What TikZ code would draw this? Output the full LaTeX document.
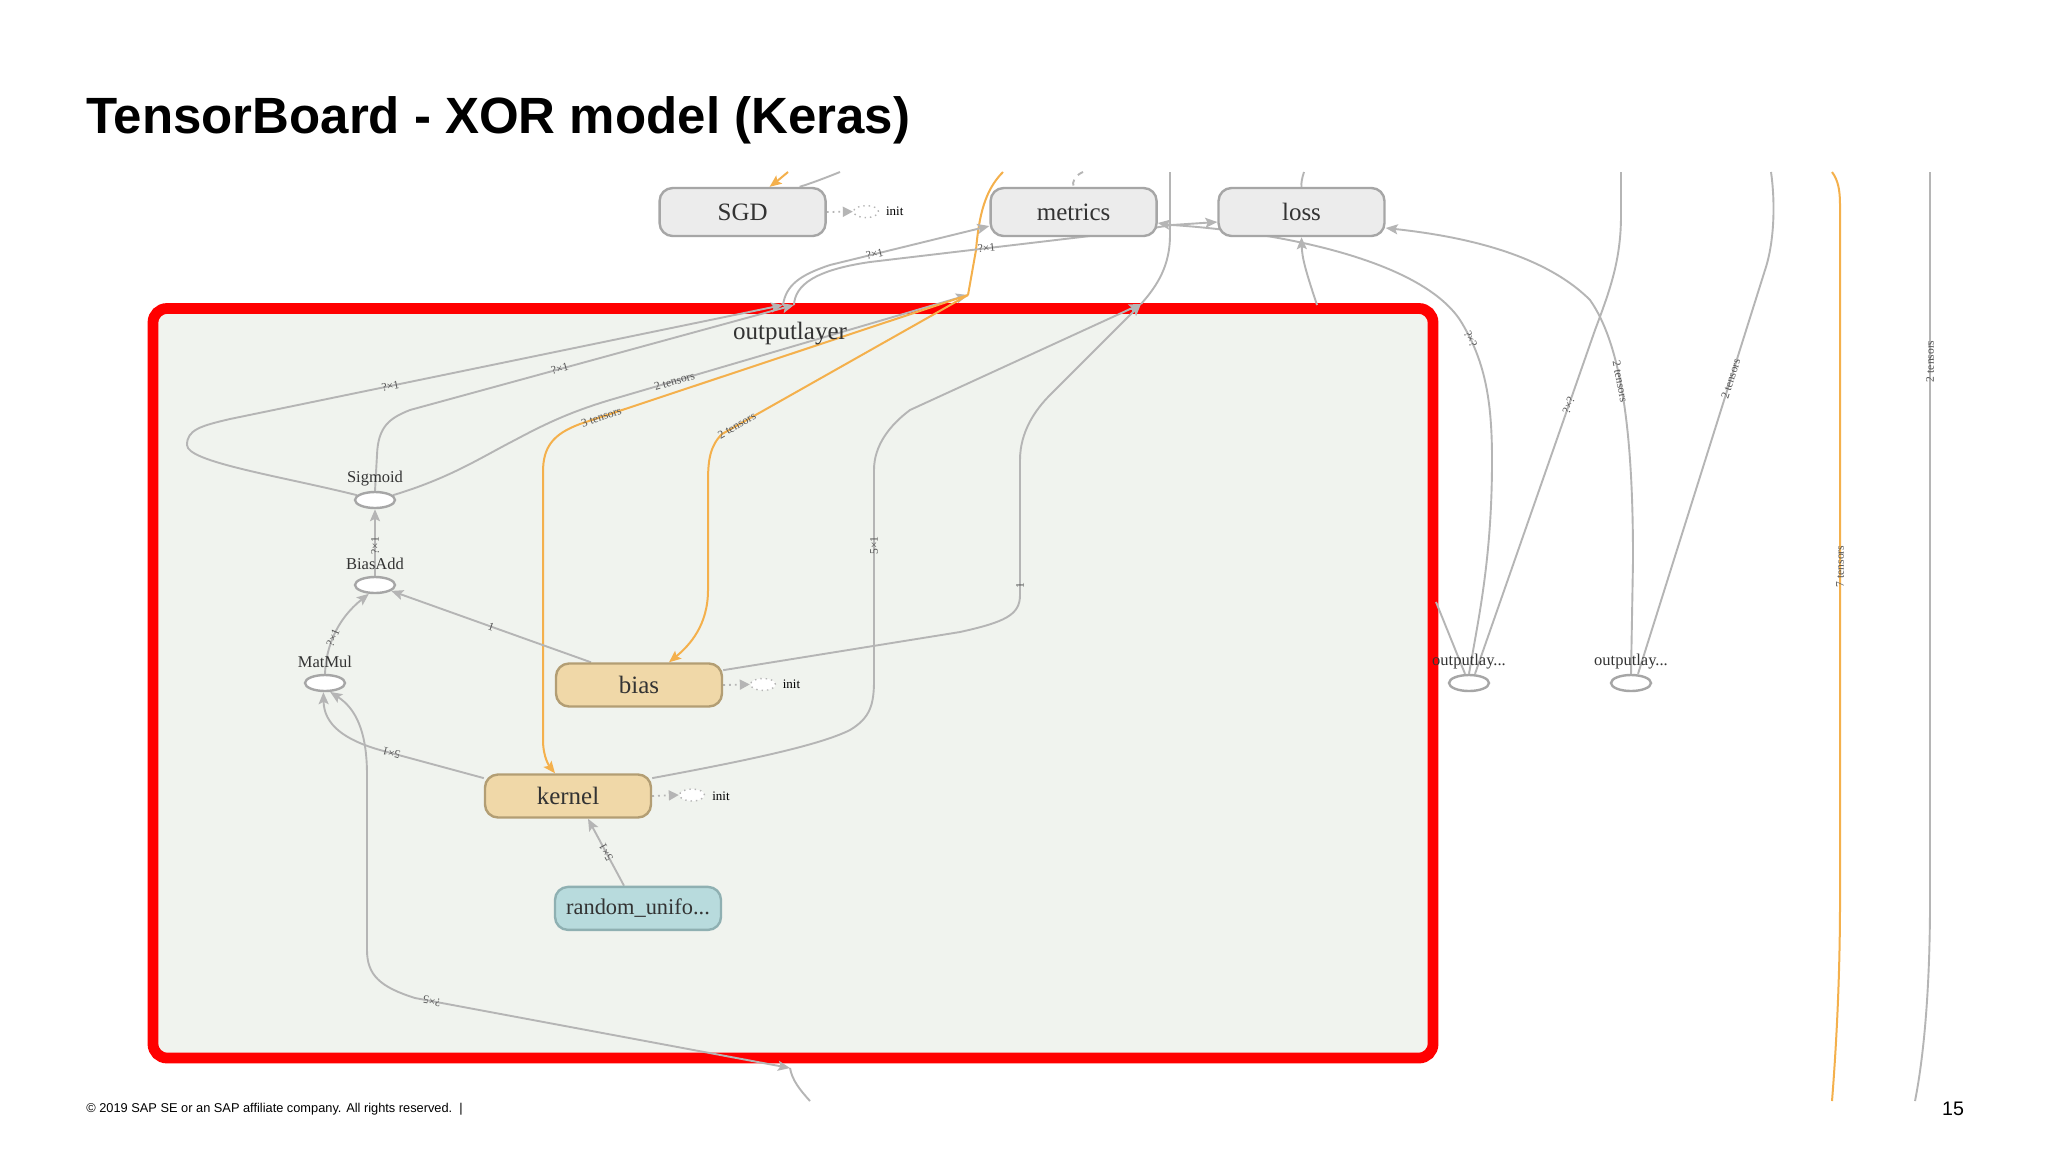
\documentclass[tikz,border=0pt]{standalone}
\usepackage{fontspec}
\setmainfont{Liberation Serif}
\newfontfamily\slidefont{Liberation Sans}
\usetikzlibrary{arrows.meta,shapes.geometric}
\pgfdeclarelayer{bg}
\pgfdeclarelayer{edgelayer}
\pgfsetlayers{bg,edgelayer,main}
\definecolor{edgegray}{HTML}{B5B5B5}
\definecolor{tborange}{HTML}{F4B04C}
\definecolor{boxgray}{HTML}{ECECEC}
\definecolor{boxstroke}{HTML}{A6A6A6}
\definecolor{varfill}{HTML}{F0D8A8}
\definecolor{varstroke}{HTML}{B39E74}
\definecolor{constfill}{HTML}{B8DBDD}
\definecolor{conststroke}{HTML}{8FB0B2}
\definecolor{groupfill}{HTML}{F0F3EE}
\definecolor{txtdark}{HTML}{333333}
\definecolor{lbltxt}{HTML}{555555}
\definecolor{sapred}{HTML}{FF0000}
\begin{document}
\begin{tikzpicture}[x=0.5pt,y=-0.5pt,
  >={Stealth[length=6pt,width=5pt,inset=1.2pt]},
  edge/.style={draw=edgegray, line width=0.95pt},
  oedge/.style={draw=tborange, line width=1pt},
  gbox/.style={draw=boxstroke, fill=boxgray, line width=1.2pt, rounded corners=6.5pt,
    minimum width=83pt, minimum height=24pt, font=\fontsize{12.5}{14}\selectfont,
    text=txtdark, inner sep=0pt},
  varbox/.style={gbox, draw=varstroke, fill=varfill, minimum height=21.5pt},
  constbox/.style={gbox, draw=conststroke, fill=constfill, minimum height=21.5pt,
    font=\fontsize{11.2}{13}\selectfont},
  opnode/.style={ellipse, draw=boxstroke, fill=white, line width=1.2pt,
    minimum width=20pt, minimum height=8pt, inner sep=0pt},
  oplbl/.style={font=\fontsize{8.25}{10}\selectfont, text=txtdark, inner sep=0pt},
  lab/.style={font=\fontsize{5.8}{6}\selectfont, text=lbltxt, inner sep=0.3pt},
  elabel/.style={lab, sloped},
  initell/.style={ellipse, draw=edgegray, dotted, fill=white, line width=0.7pt,
    minimum width=12.5pt, minimum height=6pt, inner sep=0pt},
  inittxt/.style={font=\fontsize{6.5}{8}\selectfont, inner sep=0pt, text=black},
  initedge/.style={draw=edgegray, dotted, line width=0.9pt, -{Triangle[length=5pt,width=5pt]}}
]
\begin{pgfonlayer}{bg}
\fill[white] (0,0) rectangle (2048,1152);
\draw[draw=sapred, line width=5.4pt, fill=groupfill, rounded corners=7pt] (153,308.5) rectangle (1433,1058);
\end{pgfonlayer}
\useasboundingbox (0,0) rectangle (2048,1152);

% slide texts
\node[anchor=base west, inner sep=0, font=\slidefont\bfseries\fontsize{25.5}{30}\selectfont] (title) at (86,133) {TensorBoard - XOR model (Keras)};
\node[anchor=base west, inner sep=0, font=\slidefont\fontsize{6.4}{8}\selectfont] (footer) at (86,1112) {© 2019 SAP SE or an SAP affiliate company. All rights reserved.\ \ |};
\node[anchor=base, inner sep=0, font=\slidefont\fontsize{9.8}{12}\selectfont] (pageno) at (1953,1115) {15};

% nodes
\node[gbox] (sgd) at (742.6,212) {SGD};
\node[gbox] (metrics) at (1073.6,212) {metrics};
\node[gbox] (loss) at (1301.5,212) {loss};
\node[font=\fontsize{12.5}{14}\selectfont, text=txtdark, inner sep=0pt] (ollbl) at (790,334) {outputlayer};

\node[opnode] (sig) at (375,500) {};
\node[oplbl] (sigl) at (375,479) {Sigmoid};
\node[opnode] (biasadd) at (375,585) {};
\node[oplbl] (biasaddl) at (375,564) {BiasAdd};
\node[opnode] (matmul) at (325,683) {};
\node[oplbl] (matmull) at (325,662) {MatMul};

\node[varbox] (bias) at (639,685) {bias};
\node[varbox] (kernel) at (568,796) {kernel};
\node[constbox] (rand) at (638,908.4) {random\_unifo...};

\node[opnode] (ol1) at (1469,683) {};
\node[oplbl] (ol1l) at (1469,662) {outputlay...};
\node[opnode] (ol2) at (1631,683) {};
\node[oplbl] (ol2l) at (1631,662) {outputlay...};

\node[initell] (sgdinit) at (866,211.6) {};
\node[inittxt] (sgdinitt) at (894.7,211.6) {init};
\node[initell] (biasinit) at (763,684.4) {};
\node[inittxt] (biasinitt) at (791.5,684.4) {init};
\node[initell] (kinit) at (692,795) {};
\node[inittxt] (kinitt) at (721,796) {init};

% ports and stubs
\coordinate (pA) at (783,305);
\coordinate (pB) at (794,305);
\coordinate (pC) at (968,295);
\coordinate (pD) at (1141,304);
\coordinate (pE) at (790,1068);
\coordinate (pF) at (1436,602);
\coordinate (pG) at (1317,305);
\coordinate (J) at (1172,225);
\coordinate (t1) at (788,172);
\coordinate (t2) at (840,172);
\coordinate (t3) at (1003,172);
\coordinate (t4) at (1083,172);
\coordinate (t5) at (1170,172);
\coordinate (t6) at (1304,172);
\coordinate (t7) at (1621,172);
\coordinate (t8) at (1771,172);
\coordinate (t9) at (1832,172);
\coordinate (t10) at (1930,172);
\coordinate (b1) at (810,1101);
\coordinate (b2) at (1832,1101);
\coordinate (b3) at (1915,1101);

\begin{pgfonlayer}{edgelayer}
% inside outputlayer
\draw[edge,->] (sig.165) .. controls (280,476) and (187,462) .. (187,445) .. controls (187,430) and (200,426) .. (230,419) -- (pA) node[elabel,pos=0.29]{?×1};
\draw[edge,->] (sig.north) -- (377,455) .. controls (378,426) and (390,418) .. (410,410) -- (pB) node[elabel,pos=0.39]{?×1};
\draw[edge,->] (sig.15) .. controls (450,478) and (480,458) .. (515,440) .. controls (545,424) and (570,412) .. (610,400) -- (pC) node[elabel,pos=0.18]{2 tensors};
\draw[oedge,->] (pC) -- (580,424) node[elabel,pos=0.945]{3 tensors} .. controls (553,434) and (543,447) .. (543,472) -- (543,740) .. controls (543,758) and (550,767) .. ([xshift=-6.5pt]kernel.north);
\draw[oedge,->] (pC) -- (722,434) node[elabel,pos=0.94]{2 tensors} .. controls (710,446) and (708,460) .. (708,482) -- (708,590) .. controls (708,625) and (690,645) .. ([xshift=15pt]bias.north);
\draw[oedge] (t3) .. controls (985,190) and (979,215) .. (976,250) -- (pC);
\draw[edge,->] (bias.10) -- (960,632) .. controls (1005,622) and (1020,615) .. (1020,595) -- (1020,460) node[elabel,pos=0.07]{1} .. controls (1020,432) and (1035,410) .. (1050,395) -- (pD);
\draw[edge,->] (kernel.12) .. controls (750,760) and (820,745) .. (850,730) .. controls (870,718) and (874,705) .. (874,680) -- (874,470) node[elabel,pos=0.64]{5×1} .. controls (874,445) and (890,425) .. (910,410) -- (pD);
\draw[edge,->] ([xshift=-24pt]bias.north) -- (biasadd.-20) node[elabel,pos=0.5]{1};
\draw[edge,->] (biasadd.north) -- (sig.south) node[elabel,pos=0.45]{?×1};
\draw[edge,->] (matmul.north) .. controls (326,648) and (336,620) .. (biasadd.-125) node[elabel,pos=0.45]{?×1};
\draw[edge,->] (kernel.168) -- (380,750) node[elabel,allow upside down,pos=0.89]{5×1} .. controls (345,740) and (324,725) .. (matmul.-100);
\draw[edge,<->] (pE) -- (415,998) node[elabel,allow upside down,pos=0.955]{?×5} .. controls (380,987) and (367,975) .. (367,950) -- (367,775) .. controls (367,730) and (355,708) .. (matmul.-60);
\draw[edge] (b1) .. controls (800,1090) and (792,1080) .. (pE);
\draw[edge,->] ([xshift=-7pt]rand.north) -- ([xshift=10pt]kernel.south) node[elabel,allow upside down,pos=0.5]{5×1};
% init links
\draw[initedge] (sgd.east) -- (sgdinit.west);
\draw[initedge] (bias.east) -- (biasinit.west);
\draw[initedge] (kernel.east) -- (kinit.west);
% top area
\draw[oedge,->] (t1) .. controls (782,177) and (776,182) .. ([xshift=13.5pt]sgd.north);
\draw[edge] (t2) .. controls (825,178) and (812,183) .. ([xshift=28.5pt]sgd.north);
\draw[edge,dashed] (t4) .. controls (1074,176) and (1072,182) .. (metrics.north);
\draw[edge] (t6) .. controls (1302,178) and (1301,183) .. (loss.north);
\draw[edge] (t5) -- (1170,235) .. controls (1170,265) and (1158,285) .. (pD);
\draw[edge,->] (pG) .. controls (1306,272) and (1302,258) .. (loss.south);
\draw[edge,->] (J) -- ([yshift=-5.5pt]metrics.east);
\draw[edge,->] (J) -- ([yshift=-5pt]loss.west);
\draw[edge] (J) .. controls (1140,230) and (1120,233) .. (1090,236) -- (870,262) node[elabel,pos=0.47]{?×1} .. controls (815,270) and (795,285) .. (pB);
\draw[edge,->] (pA) .. controls (786,285) and (800,275) .. (830,265) -- ([yshift=-7pt]metrics.west) node[elabel,pos=0.28]{?×1};
% right area
\draw[edge] (J) .. controls (1280,232) and (1420,260) .. (1460,320) .. controls (1485,360) and (1492,400) .. (1492,460) node[elabel,pos=0.16]{?×?} .. controls (1492,560) and (1478,620) .. (ol1.north);
\draw[edge,->] (ol2.north) -- (1633,560) .. controls (1633,450) and (1625,350) .. (1590,300) node[elabel,pos=0.6]{2 tensors} .. controls (1540,250) and (1450,235) .. ([yshift=-8pt]loss.east);
\draw[edge] (t7) -- (1621,215) .. controls (1621,260) and (1610,290) .. (1595,330) -- ([xshift=3pt]ol1.north) node[elabel,pos=0.22]{?×?};
\draw[edge] (t8) .. controls (1775,200) and (1775,240) .. (1765,270) -- ([xshift=3.5pt]ol2.north) node[elabel,pos=0.27]{2 tensors};
\draw[edge] (pF) -- ([xshift=-2pt]ol1.north);
\draw[oedge] (t9) .. controls (1838,180) and (1840,190) .. (1840,205) -- (1840,900) node[lab,rotate=90,pos=0.52]{7 tensors} .. controls (1840,980) and (1836,1050) .. (b2);
\draw[edge] (t10) -- (1930,900) node[lab,rotate=90,pos=0.26]{2 tensors} .. controls (1930,980) and (1925,1050) .. (b3);
\end{pgfonlayer}
\end{tikzpicture}
\end{document}
